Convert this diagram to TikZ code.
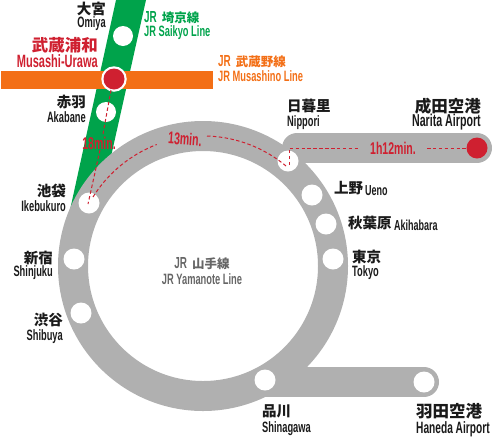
\documentclass[tikz,border=0pt]{standalone}
\usepackage{fontspec}
\setmainfont{Liberation Sans}
\newfontfamily\cjk{Noto Sans CJK JP}
\newfontfamily\lat[FakeStretch=0.62]{Liberation Sans}
\definecolor{grn}{HTML}{00A34B}
\definecolor{org}{HTML}{F36F16}
\definecolor{rd}{HTML}{CF2030}
\definecolor{gry}{HTML}{B0B0B0}
\definecolor{gtx}{HTML}{666666}
\definecolor{ink}{HTML}{1A1A1A}
\newcommand{\jrname}[1]{{\bfseries\lat\fontsize{16}{16}\selectfont JR\hspace{5pt}\cjk\fontsize{12.5}{12.5}\selectfont #1}}
\tikzset{
  stn/.style={circle,fill=white,draw=none,minimum size=21pt,inner sep=0pt},
  stnred/.style={circle,fill=rd,draw=none,minimum size=21pt,inner sep=0pt},
  jp/.style={inner sep=0pt,text=ink,font=\cjk\bfseries\fontsize{14.5}{14.5}\selectfont},
  jpbig/.style={inner sep=0pt,text=ink,font=\cjk\bfseries\fontsize{16.5}{16.5}\selectfont},
  en/.style={inner sep=0pt,text=ink,font=\lat\bfseries\fontsize{15}{15}\selectfont},
  ensm/.style={inner sep=0pt,text=ink,font=\lat\bfseries\fontsize{14.5}{14.5}\selectfont},
  enbig/.style={inner sep=0pt,text=ink,font=\lat\bfseries\fontsize{17.2}{17.2}\selectfont},
  route/.style={dashed,dash pattern=on 3.5pt off 2.4pt,draw=rd,line width=1pt},
  tm/.style={inner sep=0pt,text=rd,font=\lat\bfseries\fontsize{17}{17}\selectfont},
}
\begin{document}
\begin{tikzpicture}[x=1pt,y=-1pt]
\useasboundingbox (0,0) rectangle (492,437);
% Saikyo and Musashino lines
\fill[grn] (116,0) -- (146,0) -- (108,170) -- (70,210) -- cycle;
\fill[org] (1,71) rectangle (213,89);
% Yamanote ring and airport branches
\draw[gry,line width=30pt] (203,266) circle[radius=130pt];
\draw[gry,line width=30pt,line cap=round] (297,148) -- (477,148);
\draw[gry,line width=30pt,line cap=round] (268,382) -- (424,382);
% Stations
\node[circle,fill=white,minimum size=25.5pt,inner sep=0pt] at (114,79) {};
\node[stnred] (urawa) at (114,79) {};
\node[stn,minimum size=20pt] (omiya) at (123,36) {};
\node[stn,minimum size=20pt] (akabane) at (106,112) {};
\node[stn] (ikebukuro) at (89,203) {};
\node[stn] (nippori) at (288,161) {};
\node[stn] (ueno) at (312,195) {};
\node[stn] (akihabara) at (326,224) {};
\node[stn] (tokyo) at (333,259) {};
\node[stn] (shinjuku) at (74,259) {};
\node[stn] (shibuya) at (81,313) {};
\node[stn] (shinagawa) at (265,380) {};
\node[stn] (haneda) at (424,382) {};
\node[stnred] (narita) at (477,148) {};
% Routes
\coordinate (u1) at (111,90);
\coordinate (m1) at (103,134);
\coordinate (m2) at (100,150);
\coordinate (ik1) at (88,204);
\coordinate (ik2) at (93,197);
\coordinate (nip) at (289,165);
\coordinate (nipc) at (289,148);
\coordinate (r1) at (360,148);
\coordinate (r2) at (427,148);
\draw[route] (u1) -- (m1);
\draw[route] (m2) -- (ik1);
\draw[route] (ik2) arc[start angle=148,end angle=111,radius=130pt];
\draw[route] (207,136) arc[start angle=88.2,end angle=49.6,radius=130pt];
\draw[route] (nip) -- (nipc) -- (r1);
\draw[route] (r2) -- (narita.west);
\node[tm] (t18) at (99,143) {18min.};
\node[tm,rotate=-4] (t13) at (185,139) {13min.};
\node[tm] (t112) at (393,148) {1h12min.};
% Line names
\node[inner sep=0pt,anchor=west,text=grn] at (144,18) {\jrname{埼京線}};
\node[en,anchor=west,text=grn] at (144,33) {JR Saikyo Line};
\node[inner sep=0pt,anchor=west,text=org] at (218,62) {\jrname{武蔵野線}};
\node[en,anchor=west,text=org] at (218,76) {JR Musashino Line};
\node[inner sep=0pt,text=gtx] at (202,264) {\jrname{山手線}};
\node[en,text=gtx] at (202,279) {JR Yamanote Line};
% Station names
\node[jp,anchor=east] at (106,9) {大宮};
\node[en,anchor=east] at (106,24) {Omiya};
\node[jpbig,anchor=east,text=rd] at (98,45) {武蔵浦和};
\node[en,anchor=east,text=rd,font=\lat\bfseries\fontsize{17.8}{17.8}\selectfont] at (98,61) {Musashi-Urawa};
\node[jp,anchor=east] at (86,102) {赤羽};
\node[en,anchor=east] at (86,117) {Akabane};
\node[jp,anchor=east] at (66,191) {池袋};
\node[en,anchor=east] at (66,206) {Ikebukuro};
\node[jp,anchor=west] at (287,106) {日暮里};
\node[en,anchor=west] at (287,123) {Nippori};
\node[jpbig,anchor=east] at (481,106) {成田空港};
\node[enbig,anchor=east] at (481,122) {Narita Airport};
\node[jp,anchor=west] at (334,188) {上野};
\node[ensm,anchor=west] at (365,191) {Ueno};
\node[jp,anchor=west] at (348,223) {秋葉原};
\node[ensm,anchor=west] at (394,225) {Akihabara};
\node[jp,anchor=west] at (352,257) {東京};
\node[en,anchor=west] at (352,273) {Tokyo};
\node[jp,anchor=east] at (53,258) {新宿};
\node[en,anchor=east] at (53,273) {Shinjuku};
\node[jp,anchor=east] at (63,320) {渋谷};
\node[en,anchor=east] at (63,337) {Shibuya};
\node[jp,anchor=west] at (262,411) {品川};
\node[en,anchor=west] at (262,429) {Shinagawa};
\node[jpbig,anchor=west] at (416,411) {羽田空港};
\node[enbig,anchor=west,font=\lat\bfseries\fontsize{16.4}{16.4}\selectfont] at (416,429) {Haneda Airport};
\end{tikzpicture}
\end{document}
